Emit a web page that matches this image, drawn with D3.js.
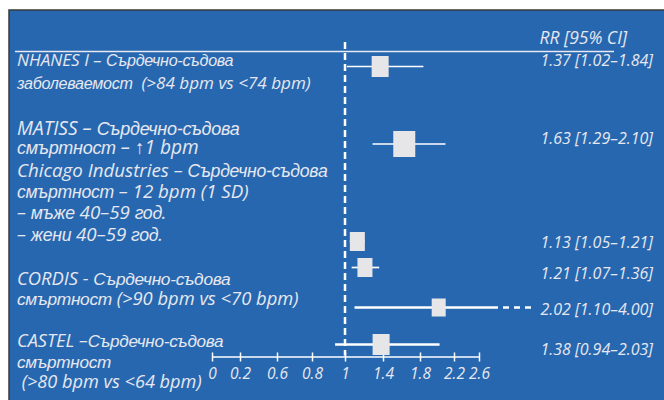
<!DOCTYPE html>
<html>
<head>
<meta charset="utf-8">
<script src="https://cdn.jsdelivr.net/npm/d3@7"></script>
<style>
  body { margin: 0; background: #fff; }
  text { font-family: "Open Sans", "Noto Sans", sans-serif; font-style: italic; font-weight: 400; white-space: pre; }
  .cy { font-family: "Liberation Sans", sans-serif; font-weight: 400; }
</style>
</head>
<body>
<div id="chart"></div>
<script>
/*
 * Forest plot: resting heart rate and cardiovascular risk (RR, 95% CI)
 */

// data
var studies = ["NHANES I", "MATISS", "Chicago men", "Chicago women", "CORDIS", "CASTEL"];
var rr = [1.37, 1.63, 1.13, 1.21, 2.02, 1.38];
var ciLow = [1.02, 1.29, 1.05, 1.07, 1.10, 0.94];
var ciHigh = [1.84, 2.10, 1.21, 1.36, 4.00, 2.03];
var axisTicks = [0, 0.2, 0.6, 0.8, 1, 1.4, 1.8, 2.2, 2.6];

var labelBlocks = [
  ["NHANES I – Сърдечно-съдова", "заболеваемост  (>84 bpm vs <74 bpm)"],
  ["MATISS – Сърдечно-съдова", "смъртност – ↑1 bpm"],
  ["Chicago Industries – Сърдечно-съдова", "смъртност – 12 bpm (1 SD)", "– мъже 40–59 год.", "– жени 40–59 год."],
  ["CORDIS - Сърдечно-съдова", "смъртност (>90 bpm vs <70 bpm)"],
  ["CASTEL –Сърдечно-съдова", "смъртност", " (>80 bpm vs <64 bpm)"]
];
var headerText = "RR [95% CI]";

// layout (pixels)
var width = 664, height = 400;
var rowY = [66.5, 144, 241.5, 267.5, 307.5, 344.5];
var valueY = [65.5, 144, 248, 279, 315, 355];
var boxSize = [17, 22, 15, 15, 14, 17];
var ciWidth = [1.7, 1.7, 1.7, 1.7, 2.5, 2.7];
var blockTop = [65.5, 135, 177, 285, 347];
var blockStep = [23.5, 19, 21.2, 20, 20.5];
var blockScale = [0.95, 1.06, 1.04, 1.02, 1.01];
var axisY = 356.5;

var bg = "#2767b0";
var ink = "#e6e7ef";

var svg = d3.select("#chart")
  .append("svg")
  .attr("width", width)
  .attr("height", height);

svg.append("rect")
  .attr("x", 9).attr("y", 10)
  .attr("width", width).attr("height", height)
  .attr("fill", bg)
  .attr("stroke", "#3a3a3a")
  .attr("stroke-width", 1.5);

// hand drawn axis, so the scale is piecewise between the tick marks
var x = d3.scaleLinear()
  .domain(axisTicks)
  .range([212, 240, 277, 312, 345, 383, 420, 454, 479]);

// header
svg.append("text")
  .attr("x", 627).attr("y", 44)
  .attr("text-anchor", "end")
  .attr("fill", ink)
  .style("font-size", "17.5px")
  .text(headerText);

svg.append("line")
  .attr("x1", 15).attr("x2", 614)
  .attr("y1", 51.5).attr("y2", 51.5)
  .attr("stroke", "#e8e8f0")
  .attr("stroke-width", 1.5);

// left labels, cyrillic runs come out in a different face
var cyr = /([\u0400-\u04FF][\u0400-\u04FF\-]*[\u0400-\u04FF]|[\u0400-\u04FF])/;
labelBlocks.forEach(function (lines, b) {
  var k = blockScale[b];
  lines.forEach(function (line, i) {
    var t = svg.append("text")
      .attr("x", 17)
      .attr("y", blockTop[b] + i * blockStep[b])
      .attr("fill", ink);
    line.split(cyr).forEach(function (part) {
      if (part === "") return;
      var isCyr = cyr.test(part);
      t.append("tspan")
        .attr("class", isCyr ? "cy" : null)
        .style("font-size", ((isCyr ? 17 : 18) * k) + "px")
        .style("letter-spacing", isCyr ? "-0.3px" : null)
        .text(part);
    });
  });
});

// reference line at RR = 1
svg.append("line")
  .attr("x1", x(1)).attr("x2", x(1))
  .attr("y1", 42).attr("y2", axisY - 1)
  .attr("stroke", "#fff")
  .attr("stroke-width", 2.5)
  .attr("stroke-dasharray", "7,4");

// axis
var xAxis = svg.append("g")
  .attr("transform", "translate(0," + axisY + ")")
  .call(d3.axisBottom(x)
    .tickValues(axisTicks)
    .tickFormat(d3.format("~g"))
    .tickSizeOuter(0));

xAxis.select(".domain").attr("stroke", "#fff").attr("stroke-width", 1.5);
xAxis.selectAll(".tick line")
  .attr("y1", -4).attr("y2", 5)
  .attr("stroke", "#fff")
  .attr("stroke-width", 1.5);
xAxis.selectAll(".tick text")
  .attr("y", 11)
  .attr("fill", ink)
  .style("font-size", "15.5px")
  .style("font-family", "'Open Sans', sans-serif");

// confidence intervals
var xMax = axisTicks[axisTicks.length - 1];
var rows = studies.map(function (s, i) {
  return { name: s, rr: rr[i], lo: ciLow[i], hi: ciHigh[i], i: i };
});

svg.selectAll(".ci")
  .data(rows)
  .enter()
  .append("line")
  .attr("class", "ci")
  .attr("x1", function (d) { return x(d.lo); })
  .attr("x2", function (d) { return d.hi > xMax ? x(xMax) + 13 : x(d.hi); })
  .attr("y1", function (d) { return rowY[d.i]; })
  .attr("y2", function (d) { return rowY[d.i]; })
  .attr("stroke", "#fff")
  .attr("stroke-width", function (d) { return ciWidth[d.i]; });

// interval running off the axis
svg.selectAll(".ci-off")
  .data(rows.filter(function (d) { return d.hi > xMax; }))
  .enter()
  .append("line")
  .attr("class", "ci-off")
  .attr("x1", x(xMax) + 13)
  .attr("x2", 532)
  .attr("y1", function (d) { return rowY[d.i]; })
  .attr("y2", function (d) { return rowY[d.i]; })
  .attr("stroke", "#fff")
  .attr("stroke-width", function (d) { return ciWidth[d.i]; })
  .attr("stroke-dasharray", "6,5");

// point estimates
svg.selectAll(".box")
  .data(rows)
  .enter()
  .append("rect")
  .attr("class", "box")
  .attr("x", function (d) { return x(d.rr) - boxSize[d.i] / 2; })
  .attr("y", function (d) { return rowY[d.i] - (boxSize[d.i] + 4) / 2; })
  .attr("width", function (d) { return boxSize[d.i]; })
  .attr("height", function (d) { return boxSize[d.i] + 4; })
  .attr("fill", "#e6e6e8");

// value column
var f = d3.format(".2f");
svg.selectAll(".val")
  .data(rows)
  .enter()
  .append("text")
  .attr("class", "val")
  .attr("x", 653)
  .attr("y", function (d) { return valueY[d.i]; })
  .attr("text-anchor", "end")
  .attr("fill", ink)
  .style("font-size", "16px")
  .text(function (d) { return f(d.rr) + " [" + f(d.lo) + "–" + f(d.hi) + "]"; });
</script>
</body>
</html>
